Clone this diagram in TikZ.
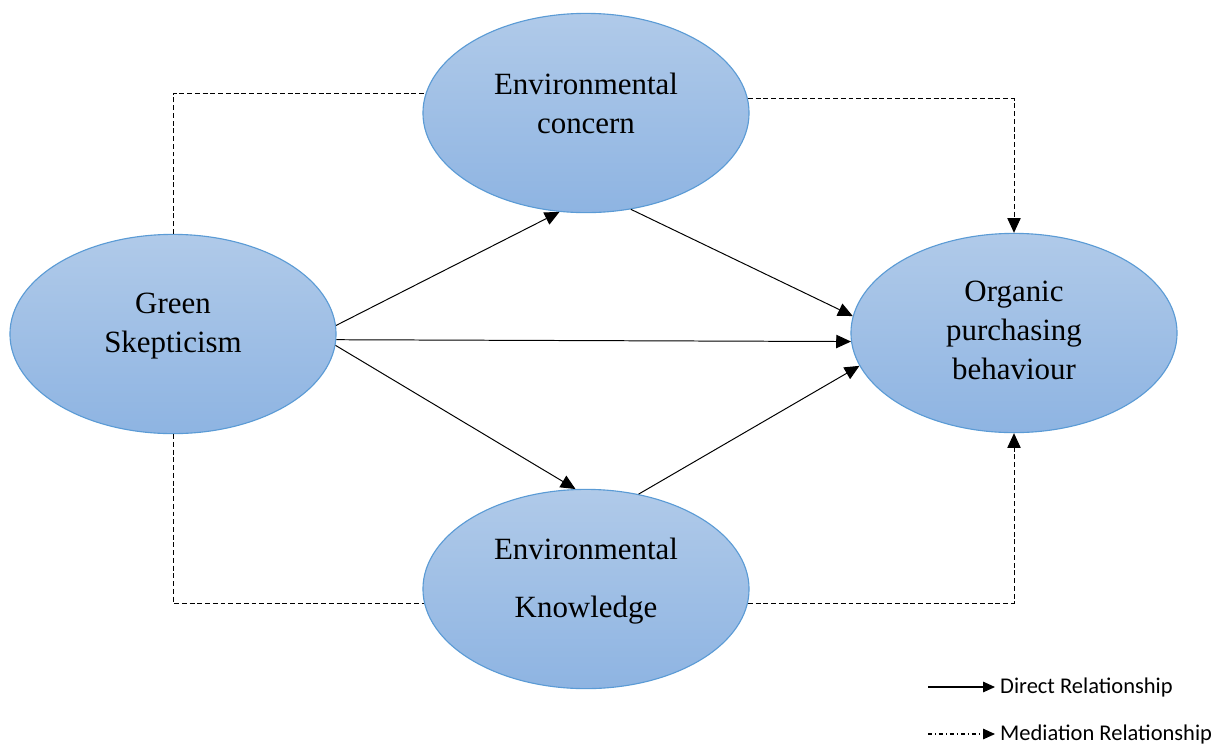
\documentclass[tikz,border=0pt]{standalone}
\usepackage{fontspec}
\setmainfont{Liberation Serif}
\newfontfamily\legendfont{Carlito}
\usetikzlibrary{shapes.geometric,arrows.meta}

\definecolor{blobtop}{RGB}{176,202,233}
\definecolor{blobbottom}{RGB}{142,180,226}
\definecolor{blobline}{RGB}{91,155,213}

\begin{document}
\begin{tikzpicture}[x=0.025cm,y=-0.025cm,
	blob/.style={ellipse, draw=blobline, line width=0.8pt, top color=blobtop, bottom color=blobbottom,
		minimum width=8.15cm, minimum height=4.98cm, inner sep=0pt},
	blobtext/.style={inner sep=0pt, align=center, font=\fontsize{22}{27.7}\selectfont},
	direct/.style={-{Triangle[length=10.5pt,width=9.5pt]}, line width=0.7pt},
	mediation/.style={line width=0.7pt, dash pattern=on 3.5pt off 2pt},
	legendtip/.style={-{Triangle[length=8.5pt,width=7.5pt]}, line width=0.8pt},
	legendtext/.style={anchor=west, inner sep=0pt, inner xsep=3.5pt, font=\legendfont\fontsize{16}{19}\selectfont}]

	\useasboundingbox (0,0) rectangle (1218,746);

	% constructs
	\node[blob] at (173,334) (GS) {};
	\node[blob] at (586,113) (EC) {};
	\node[blob] at (586,589) (EK) {};
	\node[blob] at (1014,333) (OPB) {};
	\node[blobtext] at (173,326) (GStext) {Green\\Skepticism};
	\node[blobtext] at (586,103) (ECtext) {Environmental\\concern};
	\node[blobtext] at (586,581) (EKtext) {Environmental\\[14pt]Knowledge};
	\node[blobtext] at (1014,330) (OPBtext) {Organic\\purchasing\\behaviour};

	% direct paths
	\draw[direct] (GS.3) -- (EC.255);
	\draw[direct] (EC.295) -- (OPB.174);
	\draw[direct] (GS.358) -- (OPB.183);
	\draw[direct] (GS.356) -- (EK.96);
	\draw[direct] (EK.61) -- (OPB.192);

	% mediation paths
	\draw[mediation] (GS.north) |- (EC.173);
	\draw[mediation, -{Triangle[length=10.5pt,width=9.5pt]}] (EC.5) -| (OPB.north);
	\draw[mediation] (GS.south) |- (EK.185);
	\draw[mediation, -{Triangle[length=10.5pt,width=9.5pt]}] (EK.355) -| (OPB.south);

	% legend
	\coordinate (d1) at (928,687);
	\node[legendtext] at (995,687) (dtext) {Direct Relationship};
	\draw[legendtip] (d1) -- (dtext.west);
	\coordinate (m1) at (928,734);
	\node[legendtext] at (995,734) (mtext) {Mediation Relationship};
	\draw[legendtip, dash pattern=on 3pt off 2pt on 0.8pt off 2pt] (m1) -- (mtext.west);

\end{tikzpicture}
\end{document}
